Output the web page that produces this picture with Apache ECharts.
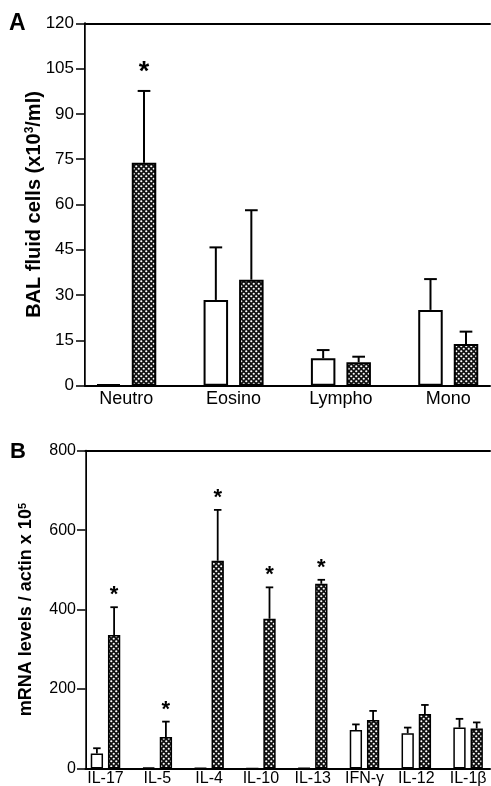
<!DOCTYPE html>
<html><head><meta charset="utf-8">
<script src="https://cdn.jsdelivr.net/npm/echarts@6/dist/echarts.min.js"></script>
<style>html,body{margin:0;padding:0;background:#fff}#c{width:491px;height:786px}</style>
</head><body><div id="c"></div>
<script>
// ---- Panel A data ----
const catsA = ['Neutro', 'Eosino', 'Lympho', 'Mono'];
const ctrlA = [0.5, 28.4, 9.1, 25.1];
const ctrlSemA = [0, 17.4, 2.7, 10.2];
const trtA = [73.8, 35.1, 7.8, 13.8];
const trtSemA = [23.8, 23.0, 1.8, 4.1];
const sigCtrlA = [0, 0, 0, 0];
const sigTrtA = [1, 0, 0, 0];
const ticksA = { min: 0, max: 120, interval: 15 };

// ---- Panel B data ----
const catsB = ['IL-17', 'IL-5', 'IL-4', 'IL-10', 'IL-13', 'IFN-γ', 'IL-12', 'IL-1β'];
const ctrlB = [38, 2, 1, 0, 1, 97, 89, 103];
const ctrlSemB = [13, 0, 0, 0, 0, 14, 14, 22];
const trtB = [336, 79, 523, 377, 465, 122, 137, 101];
const trtSemB = [70, 39, 128, 79, 10, 23, 23, 15];
const sigCtrlB = [0, 0, 0, 0, 0, 0, 0, 0];
const sigTrtB = [1, 1, 1, 1, 1, 0, 0, 0];
const ticksB = { min: 0, max: 800, interval: 200 };

const FONT = '"Liberation Sans", Arial, Helvetica, sans-serif';

function hatch() {
  const c = document.createElement('canvas');
  c.width = 5; c.height = 5;
  const g = c.getContext('2d');
  g.fillStyle = '#111'; g.fillRect(0, 0, 5, 5);
  g.fillStyle = '#fff';
  g.beginPath(); g.arc(1.25, 1.25, 1.1, 0, Math.PI * 2); g.fill();
  g.beginPath(); g.arc(3.75, 3.75, 1.1, 0, Math.PI * 2); g.fill();
  return c;
}
const HATCH = { image: hatch(), repeat: 'repeat' };

function errSeries(xIdx, yIdx, means, sems, sig, offset, capW, starOff, starSize, lw) {
  return {
    type: 'custom', xAxisIndex: xIdx, yAxisIndex: yIdx, z: 5, silent: true,
    data: means.map((m, i) => [i, m, sems[i], sig[i]]),
    renderItem(params, api) {
      const i = api.value(0), m = api.value(1), s = api.value(2), sg = api.value(3);
      const base = api.coord([i, m]);
      const top = api.coord([i, m + s]);
      const x = base[0] + offset;
      const ch = [];
      if (s > 0) {
        ch.push({ type: 'line', shape: { x1: x, y1: base[1], x2: x, y2: top[1] }, style: { stroke: '#000', lineWidth: lw } });
        ch.push({ type: 'line', shape: { x1: x - capW / 2, y1: top[1], x2: x + capW / 2, y2: top[1] }, style: { stroke: '#000', lineWidth: lw } });
      }
      if (sg) {
        ch.push({ type: 'text', style: { text: '*', x: x, y: top[1] - starOff, align: 'center', verticalAlign: 'middle', textAlign: 'center', textVerticalAlign: 'middle', font: 'bold ' + starSize + 'px ' + FONT, fill: '#000' } });
      }
      return { type: 'group', children: ch };
    }
  };
}

const frameX = (gi, pos, w) => ({
  gridIndex: gi, type: 'value', min: 0, max: 1, position: pos,
  axisLine: { show: true, onZero: false, lineStyle: { color: '#000', width: w } },
  axisTick: { show: false }, axisLabel: { show: false }, splitLine: { show: false }
});
const frameRight = (gi) => ({
  gridIndex: gi, type: 'value', min: 0, max: 1, position: 'right',
  axisLine: { show: true, lineStyle: { color: '#444', width: 1 } },
  axisTick: { show: false }, axisLabel: { show: false }, splitLine: { show: false }
});

const chart = echarts.init(document.getElementById('c'), null, { renderer: 'canvas' });
chart.setOption({
  animation: false,
  backgroundColor: '#fff',
  graphic: [
    { type: 'text', left: 9, top: 12, style: { text: 'A', font: 'bold 23px ' + FONT, fill: '#000' } },
    { type: 'text', left: 10, top: 441, style: { text: 'B', font: 'bold 22px ' + FONT, fill: '#000' } }
  ],
  grid: [
    { left: 85, top: 23.3, width: 405, height: 362.4, outerBoundsMode: 'none' },
    { left: 72.6, top: 23.3, width: 429.3, height: 362.4, outerBoundsMode: 'none' },
    { left: 85.5, top: 450.7, width: 404.5, height: 317.8, outerBoundsMode: 'none' },
    { left: 79.6, top: 450.7, width: 414.4, height: 317.8, outerBoundsMode: 'none' }
  ],
  xAxis: [
    frameX(0, 'bottom', 2),
    frameX(0, 'top', 2),
    { gridIndex: 1, type: 'category', data: catsA, axisLine: { show: false }, axisTick: { show: false },
      axisLabel: { interval: 0, fontSize: 18, color: '#000', margin: 4, fontFamily: FONT } },
    frameX(2, 'bottom', 2),
    frameX(2, 'top', 2),
    { gridIndex: 3, type: 'category', data: catsB, axisLine: { show: false }, axisTick: { show: false },
      axisLabel: { interval: 0, fontSize: 16, color: '#000', margin: 2, fontFamily: FONT } }
  ],
  yAxis: [
    { gridIndex: 0, type: 'value', min: ticksA.min, max: ticksA.max, interval: ticksA.interval,
      axisLine: { show: true, lineStyle: { color: '#000', width: 2 } },
      axisTick: { show: true, length: 9, lineStyle: { color: '#000', width: 1.5 } },
      axisLabel: { fontSize: 17, color: '#000', margin: 11, fontFamily: FONT },
      splitLine: { show: false },
      name: 'BAL fluid cells (x10{sup|3}/ml)', nameLocation: 'middle', nameRotate: 90, nameGap: 41,
      nameMoveOverlap: false,
      nameTextStyle: { fontSize: 20, fontWeight: 'bold', color: '#000', fontFamily: FONT,
        rich: { sup: { fontSize: 12, fontWeight: 'bold', fontFamily: FONT, color: '#000', verticalAlign: 'top' } } } },
    frameRight(0),
    { gridIndex: 1, type: 'value', min: ticksA.min, max: ticksA.max, show: false, splitLine: { show: false } },
    { gridIndex: 2, type: 'value', min: ticksB.min, max: ticksB.max, interval: ticksB.interval,
      axisLine: { show: true, lineStyle: { color: '#000', width: 2 } },
      axisTick: { show: true, length: 8.5, lineStyle: { color: '#000', width: 1.5 } },
      axisLabel: { fontSize: 16, color: '#000', margin: 9.5, fontFamily: FONT },
      splitLine: { show: false },
      name: 'mRNA levels / actin x 10{sup|5}', nameLocation: 'middle', nameRotate: 90, nameGap: 50,
      nameMoveOverlap: false,
      nameTextStyle: { fontSize: 18, fontWeight: 'bold', color: '#000', fontFamily: FONT,
        rich: { sup: { fontSize: 11, fontWeight: 'bold', fontFamily: FONT, color: '#000', verticalAlign: 'top' } } } },
    frameRight(2),
    { gridIndex: 3, type: 'value', min: ticksB.min, max: ticksB.max, show: false, splitLine: { show: false } }
  ],
  series: [
    { type: 'bar', xAxisIndex: 2, yAxisIndex: 2, data: ctrlA, barWidth: 24.5, barGap: '45%',
      itemStyle: { color: '#fff', borderColor: '#000', borderWidth: 2 } },
    { type: 'bar', xAxisIndex: 2, yAxisIndex: 2, data: trtA, barWidth: 24.5, barGap: '45%',
      itemStyle: { color: HATCH, borderColor: '#000', borderWidth: 2 } },
    errSeries(2, 2, ctrlA, ctrlSemA, sigCtrlA, -17.75, 12.7, 22, 22, 2),
    errSeries(2, 2, trtA, trtSemA, sigTrtA, 17.75, 12.7, 18, 27, 2),
    { type: 'bar', xAxisIndex: 5, yAxisIndex: 5, data: ctrlB, barWidth: 12.3, barGap: '40%',
      itemStyle: { color: '#fff', borderColor: '#000', borderWidth: 1.5 } },
    { type: 'bar', xAxisIndex: 5, yAxisIndex: 5, data: trtB, barWidth: 12.3, barGap: '40%',
      itemStyle: { color: HATCH, borderColor: '#000', borderWidth: 1.5 } },
    errSeries(5, 5, ctrlB, ctrlSemB, sigCtrlB, -8.6, 7.5, 15, 18, 1.8),
    errSeries(5, 5, trtB, trtSemB, sigTrtB, 8.6, 7.5, 12, 22, 1.8)
  ]
});
</script></body></html>
